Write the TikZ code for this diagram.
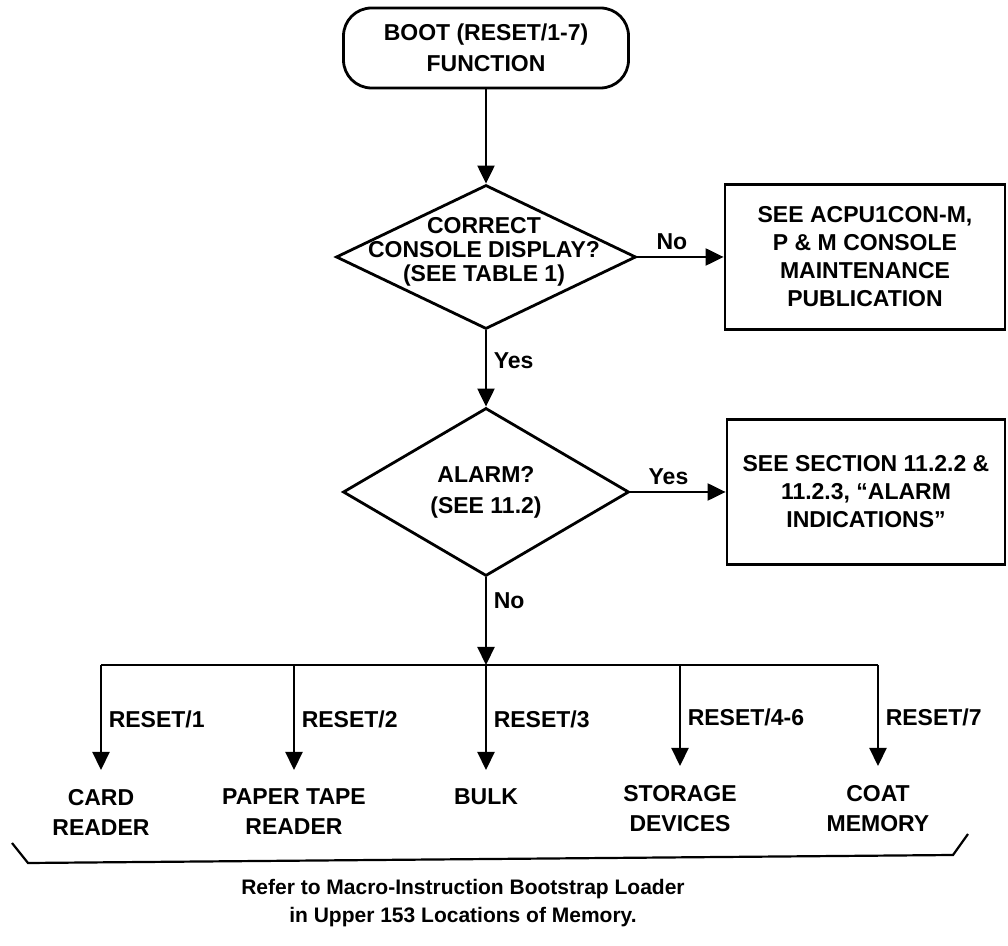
\documentclass[tikz,border=0pt]{standalone}
\usepackage{fontspec}
\setmainfont{Liberation Sans}
\usetikzlibrary{shapes.geometric,arrows.meta}

\begin{document}
\begin{tikzpicture}[x=0.5pt,y=-0.5pt,
    font=\bfseries\fontsize{11.5}{14}\selectfont,
    line width=1.1pt,
    fleche/.style={-{Triangle[length=9pt,width=8.5pt]}},
    terminal/.style={draw,line width=1.4pt,rounded corners=14pt,
                     minimum width=142.5pt,minimum height=40pt,align=center},
    boite/.style={draw,line width=1.4pt,minimum width=140pt,
                  minimum height=72.5pt,align=center},
    losange/.style={draw,diamond,line width=1.4pt,inner sep=0pt},
    bas/.style={anchor=north,inner sep=0pt,align=center,
                font=\bfseries\fontsize{11.5}{15}\selectfont}]
\useasboundingbox (0,0) rectangle (1008,946);
%
% Lancement
\node[terminal,font=\bfseries\fontsize{11.5}{15.5}\selectfont]
     (boot) at (486,48) {BOOT (RESET/1-7)\\FUNCTION};
%
% Test de la console
\node[losange,minimum width=150pt,minimum height=72pt] (console) at (486,257) {};
\node[align=center,font=\bfseries\fontsize{11.5}{12}\selectfont]
     (consoletxt) at (484,252) {CORRECT\\CONSOLE DISPLAY?\\(SEE TABLE 1)};
\node[boite] (consolepub) at (865,257)
     {SEE ACPU1CON-M,\\P \& M CONSOLE\\MAINTENANCE\\PUBLICATION};
%
% Test d'alarme
\node[losange,minimum width=143pt,minimum height=84pt] (alarm) at (486,492) {};
\node[align=center] (alarmtxt) at (486,492) {ALARM?\\[1.5pt](SEE 11.2)};
\node[boite,minimum width=139pt] (alarmpub) at (866,492)
     {SEE SECTION 11.2.2 \&\\11.2.3, “ALARM\\INDICATIONS”};
%
% Peripheriques
\node[bas] (card)    at (101,788) {CARD\\READER};
\node[bas] (paper)   at (294,788) {PAPER TAPE\\READER};
\node[bas] (bulk)    at (486,788) {BULK};
\node[bas] (storage) at (680,784) {STORAGE\\DEVICES};
\node[bas] (coat)    at (878,784) {COAT\\MEMORY};
\coordinate (bus) at (486,665);
%
% Liaisons
\draw[fleche] (boot) -- (console);
\draw[fleche] (console) -- node[above,pos=0.4] {No} (consolepub);
\draw[fleche] (console) -- node[right,pos=0.4] {Yes} (alarm);
\draw[fleche] (alarm) -- node[above,pos=0.4] {Yes} (alarmpub);
\draw[fleche] (alarm) -- node[right,pos=0.27] {No} (bus);
\draw (card |- bus) -- (coat |- bus);
\foreach \n/\r in {card/1,paper/2,bulk/3,storage/4-6,coat/7}
  \draw[fleche,shorten >=9pt] (\n |- bus) -- node[right,pos=0.44] {RESET/\r} (\n);
%
% Accolade et renvoi
\draw (12,843) -- (28,863) -- (953,855) -- (968,834);
\node[align=center,font=\bfseries\fontsize{10.5}{14}\selectfont]
     (note) at (463,903) {Refer to Macro-Instruction Bootstrap Loader\\in Upper 153 Locations of Memory.};
%
\end{tikzpicture}
\end{document}
